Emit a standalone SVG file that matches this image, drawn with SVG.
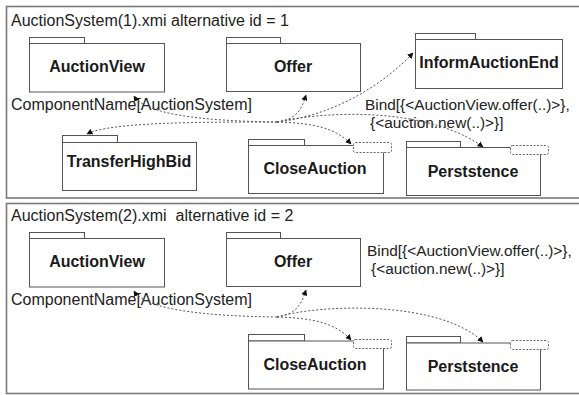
<svg xmlns="http://www.w3.org/2000/svg" width="579" height="395" viewBox="0 0 579 395">
<defs>
<style>
.frame{fill:none;stroke:#7a7a7a;stroke-width:1.6}
.pk{fill:#fff;stroke:#555;stroke-width:1}
.tp{fill:#fff;stroke:#666;stroke-width:1;stroke-dasharray:2 1.5}
.lbl{font-family:"Liberation Sans",Arial,sans-serif;font-size:16px;font-weight:bold;fill:#1a1a1a;text-anchor:middle}
.txt{font-family:"Liberation Sans",Arial,sans-serif;font-size:16px;fill:#222}
.bind{font-family:"Liberation Sans",Arial,sans-serif;font-size:15.4px;fill:#222}
.con{fill:none;stroke:#555;stroke-width:1;stroke-dasharray:2 2}
</style>
<marker id="ah" viewBox="0 0 10 10" refX="9" refY="5" markerWidth="6" markerHeight="6" markerUnits="userSpaceOnUse" orient="auto">
<path d="M0,0 L10,5 L0,10 Z" fill="#111"/>
</marker>
</defs>
<rect width="579" height="395" fill="#fff"/>

<g id="panel1">
<rect class="frame" x="6.5" y="6.5" width="580" height="191.5"/>
<text class="txt" x="11" y="26">AuctionSystem(1).xmi alternative id = 1</text>
<text class="txt" x="11" y="110">ComponentName[AuctionSystem]</text>
<text class="bind" x="365" y="110">Bind[{&lt;AuctionView.offer(..)&gt;},</text>
<text class="bind" x="370" y="128">{&lt;auction.new(..)&gt;}]</text>
</g>

<g id="p1-AuctionView">
<rect class="pk" x="29.5" y="37.5" width="55" height="6"/>
<rect class="pk" x="29.5" y="43.5" width="135" height="48.5"/>
<text class="lbl" x="97" y="72">AuctionView</text>
</g>
<g id="p1-Offer">
<rect class="pk" x="226.5" y="37.5" width="54" height="6"/>
<rect class="pk" x="226.5" y="43.5" width="134" height="48"/>
<text class="lbl" x="293" y="72">Offer</text>
</g>
<g id="p1-InformAuctionEnd">
<rect class="pk" x="415.5" y="33.5" width="60" height="6"/>
<rect class="pk" x="415.5" y="39.5" width="147" height="49"/>
<text class="lbl" x="489" y="68">InformAuctionEnd</text>
</g>
<g id="p1-TransferHighBid">
<rect class="pk" x="62.5" y="135.5" width="55" height="7"/>
<rect class="pk" x="62.5" y="142.5" width="134" height="48"/>
<text class="lbl" x="129" y="167">TransferHighBid</text>
</g>
<g id="p1-CloseAuction">
<rect class="pk" x="248.5" y="139.5" width="56" height="6"/>
<rect class="pk" x="248.5" y="145.5" width="135" height="48"/>
<rect class="tp" x="353.5" y="142.5" width="38" height="10" rx="2"/>
<text class="lbl" x="315" y="174">CloseAuction</text>
</g>
<g id="p1-Perststence">
<rect class="pk" x="406.5" y="141.5" width="54" height="6"/>
<rect class="pk" x="406.5" y="147.5" width="134" height="48"/>
<rect class="tp" x="510.5" y="145.5" width="38" height="9" rx="2"/>
<text class="lbl" x="473" y="177">Perststence</text>
</g>

<g id="panel2">
<rect class="frame" x="6.5" y="203.5" width="580" height="190"/>
<text class="txt" x="11" y="221" xml:space="preserve">AuctionSystem(2).xmi  alternative id = 2</text>
<text class="txt" x="11" y="305">ComponentName[AuctionSystem]</text>
<text class="bind" x="367" y="256">Bind[{&lt;AuctionView.offer(..)&gt;},</text>
<text class="bind" x="371" y="274">{&lt;auction.new(..)&gt;}]</text>
</g>

<g id="p2-AuctionView">
<rect class="pk" x="29.5" y="232.5" width="55" height="6"/>
<rect class="pk" x="29.5" y="238.5" width="135" height="48.5"/>
<text class="lbl" x="97" y="267">AuctionView</text>
</g>
<g id="p2-Offer">
<rect class="pk" x="226.5" y="232.5" width="54" height="6"/>
<rect class="pk" x="226.5" y="238.5" width="134" height="48"/>
<text class="lbl" x="293" y="267">Offer</text>
</g>
<g id="p2-CloseAuction">
<rect class="pk" x="248.5" y="334.5" width="56" height="6.5"/>
<rect class="pk" x="248.5" y="341" width="135" height="48"/>
<rect class="tp" x="353.5" y="339.5" width="38" height="9" rx="2"/>
<text class="lbl" x="315" y="370">CloseAuction</text>
</g>
<g id="p2-Perststence">
<rect class="pk" x="406.5" y="336.5" width="54" height="6.5"/>
<rect class="pk" x="406.5" y="343" width="134" height="47"/>
<rect class="tp" x="510.5" y="340.5" width="38" height="9" rx="2"/>
<text class="lbl" x="473" y="372">Perststence</text>
</g>

<g id="connectors">
<path class="con" d="M277,122 C200,121 145,114 134,96" marker-end="url(#ah)"/>
<path class="con" d="M277,122 C200,122 110,122 87,134" marker-end="url(#ah)"/>
<path class="con" d="M277,122 C298,119 302,108 306,95" marker-end="url(#ah)"/>
<path class="con" d="M277,122 C330,116 380,88 413,53" marker-end="url(#ah)"/>
<path class="con" d="M277,122 C310,123 335,127 351,144" marker-end="url(#ah)"/>
<path class="con" d="M277,122 C330,110 430,108 483,147" marker-end="url(#ah)"/>

<path class="con" d="M277,317 C200,316 145,309 134,291" marker-end="url(#ah)"/>
<path class="con" d="M277,317 C298,314 302,302 306,290" marker-end="url(#ah)"/>
<path class="con" d="M277,317 C310,318 335,322 351,340" marker-end="url(#ah)"/>
<path class="con" d="M277,317 C320,304 440,300 483,342" marker-end="url(#ah)"/>
</g>
</svg>
